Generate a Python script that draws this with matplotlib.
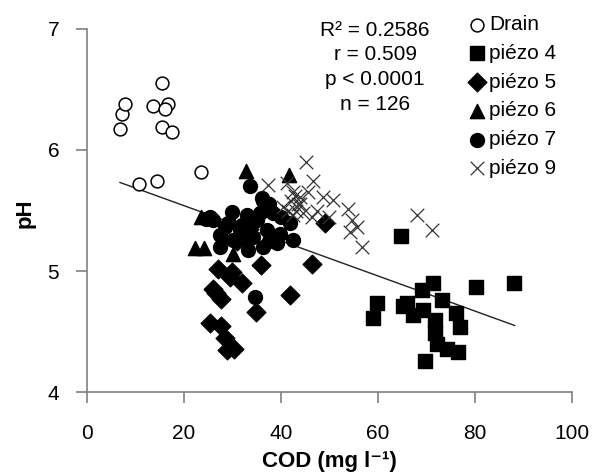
import numpy as np
import matplotlib
matplotlib.use("Agg")
import matplotlib.pyplot as plt

plt.rcParams['font.family'] = ['Liberation Sans', 'DejaVu Sans']

# Drain (open circles)
drain_x = [6.8, 7.2, 7.9, 15.5, 13.6, 16.6, 16.0, 15.5, 17.5, 10.8, 14.5, 23.6]
drain_y = [6.17, 6.30, 6.38, 6.55, 6.36, 6.38, 6.34, 6.19, 6.15, 5.72, 5.74, 5.82]

# piézo 4 (squares)
p4_x = [64.7, 88.0, 80.2, 59.8, 59.0, 71.3, 69.0, 73.2, 65.2, 67.2,
        69.3, 76.1, 77.0, 71.8, 71.8, 72.2, 74.2, 76.5, 69.7, 66.0]
p4_y = [5.29, 4.90, 4.87, 4.74, 4.61, 4.90, 4.84, 4.76, 4.71, 4.64,
        4.68, 4.65, 4.54, 4.60, 4.49, 4.40, 4.36, 4.33, 4.26, 4.74]

# piézo 5 (diamonds)
p5_x = [27.0, 35.8, 32.0, 29.8, 29.5, 26.0, 27.6, 26.5, 41.8, 34.8,
        25.4, 27.7, 28.4, 28.8, 30.4, 46.4, 49.0, 33.5, 31.0]
p5_y = [5.02, 5.05, 4.90, 4.99, 4.95, 4.85, 4.77, 4.82, 4.80, 4.66,
        4.57, 4.55, 4.45, 4.35, 4.36, 5.06, 5.40, 5.35, 5.25]

# piézo 6 (triangles)
p6_x = [32.8, 41.6, 22.2, 24.2, 30.2, 23.5, 29.5, 31.0, 28.0, 38.0]
p6_y = [5.83, 5.79, 5.19, 5.19, 5.14, 5.45, 5.45, 5.30, 5.30, 5.55]

# piézo 7 (filled circles)
p7_x = [25.4, 33.6, 36.1, 30.0, 33.0, 35.7, 38.4, 28.5, 31.5, 34.2,
        37.1, 39.8, 41.9, 42.5, 27.4, 30.1, 33.0, 36.3, 39.2, 27.4,
        33.2, 34.6, 36.3, 37.5, 24.5, 29.0, 32.0, 35.0, 40.0, 26.0,
        37.5]
p7_y = [5.45, 5.70, 5.60, 5.49, 5.46, 5.48, 5.48, 5.36, 5.34, 5.28,
        5.34, 5.31, 5.40, 5.26, 5.30, 5.26, 5.28, 5.20, 5.23, 5.20,
        5.17, 4.79, 5.58, 5.55, 5.43, 5.40, 5.38, 5.42, 5.45, 5.42,
        5.25]

# piézo 9 (crosses)
p9_x = [45.2, 46.6, 42.5, 48.7, 50.7, 53.8, 55.7, 68.0, 71.1, 56.7,
        54.6, 47.4, 46.4, 43.9, 40.4, 42.5, 41.2, 37.3, 44.0, 42.0,
        43.0, 50.0, 45.5, 54.2, 41.5, 43.5, 42.8, 44.5]
p9_y = [5.90, 5.74, 5.65, 5.61, 5.59, 5.51, 5.36, 5.46, 5.34, 5.20,
        5.42, 5.50, 5.45, 5.61, 5.53, 5.46, 5.73, 5.71, 5.55, 5.58,
        5.50, 5.45, 5.65, 5.32, 5.50, 5.55, 5.62, 5.48]

# linear fit
fit_x = [6.8, 88.2]
fit_slope = -0.0145
fit_intercept = 5.83

stats_lines = ["R² = 0.2586", "r = 0.509", "p < 0.0001", "n = 126"]

fig = plt.figure(figsize=(5.92, 4.72), dpi=100)
ax = fig.add_axes([0.147, 0.169, 0.819, 0.770])

fx = np.array(fit_x)
ax.plot(fx, fit_intercept + fit_slope * fx, color='#222222', lw=1.0, zorder=1)

ax.scatter(drain_x, drain_y, s=85, marker='o', facecolors='white',
           edgecolors='black', linewidths=1.1, label='Drain', zorder=3)
ax.scatter(p4_x, p4_y, s=110, marker='s', color='black', label='piézo 4', zorder=3)
ax.scatter(p5_x, p5_y, s=90, marker='D', color='black', label='piézo 5', zorder=3)
ax.scatter(p6_x, p6_y, s=105, marker='^', color='black', label='piézo 6', zorder=3)
ax.scatter(p7_x, p7_y, s=100, marker='o', color='black', label='piézo 7', zorder=3)
ax.scatter(p9_x, p9_y, s=95, marker='x', color='#333333', linewidths=0.9,
           label='piézo 9', zorder=3)

ax.set_xlim(0, 100)
ax.set_ylim(4, 7)
ax.set_xticks([0, 20, 40, 60, 80, 100])
ax.set_yticks([4, 5, 6, 7])

for side in ['top', 'right']:
    ax.spines[side].set_visible(False)
for side in ['left', 'bottom']:
    ax.spines[side].set_color('#808080')
    ax.spines[side].set_linewidth(1.2)
ax.tick_params(direction='out', length=8, width=1.2, color='#808080',
               labelsize=15)
ax.tick_params(axis='x', pad=15)
ax.tick_params(axis='y', pad=12)

ax.set_xlabel('COD (mg l⁻¹)', fontsize=16, fontweight='bold')
ax.set_ylabel('pH', fontsize=16, fontweight='bold')
ax.xaxis.set_label_coords(0.499, -0.19)
ax.xaxis.label.set_va('center')
ax.yaxis.set_label_coords(-0.128, 0.493)
ax.yaxis.label.set_va('center')

ax.text(0.594, 1.022, "\n".join(stats_lines), transform=ax.transAxes,
        ha='center', va='top', fontsize=15, linespacing=1.38)

leg = ax.legend(loc='upper left', bbox_to_anchor=(0.788, 1.038), frameon=False,
                fontsize=15, handletextpad=0.15, handlelength=0.8,
                labelspacing=0.47, borderpad=0.0, borderaxespad=0.0)

fig.savefig('out.png', dpi=100)
